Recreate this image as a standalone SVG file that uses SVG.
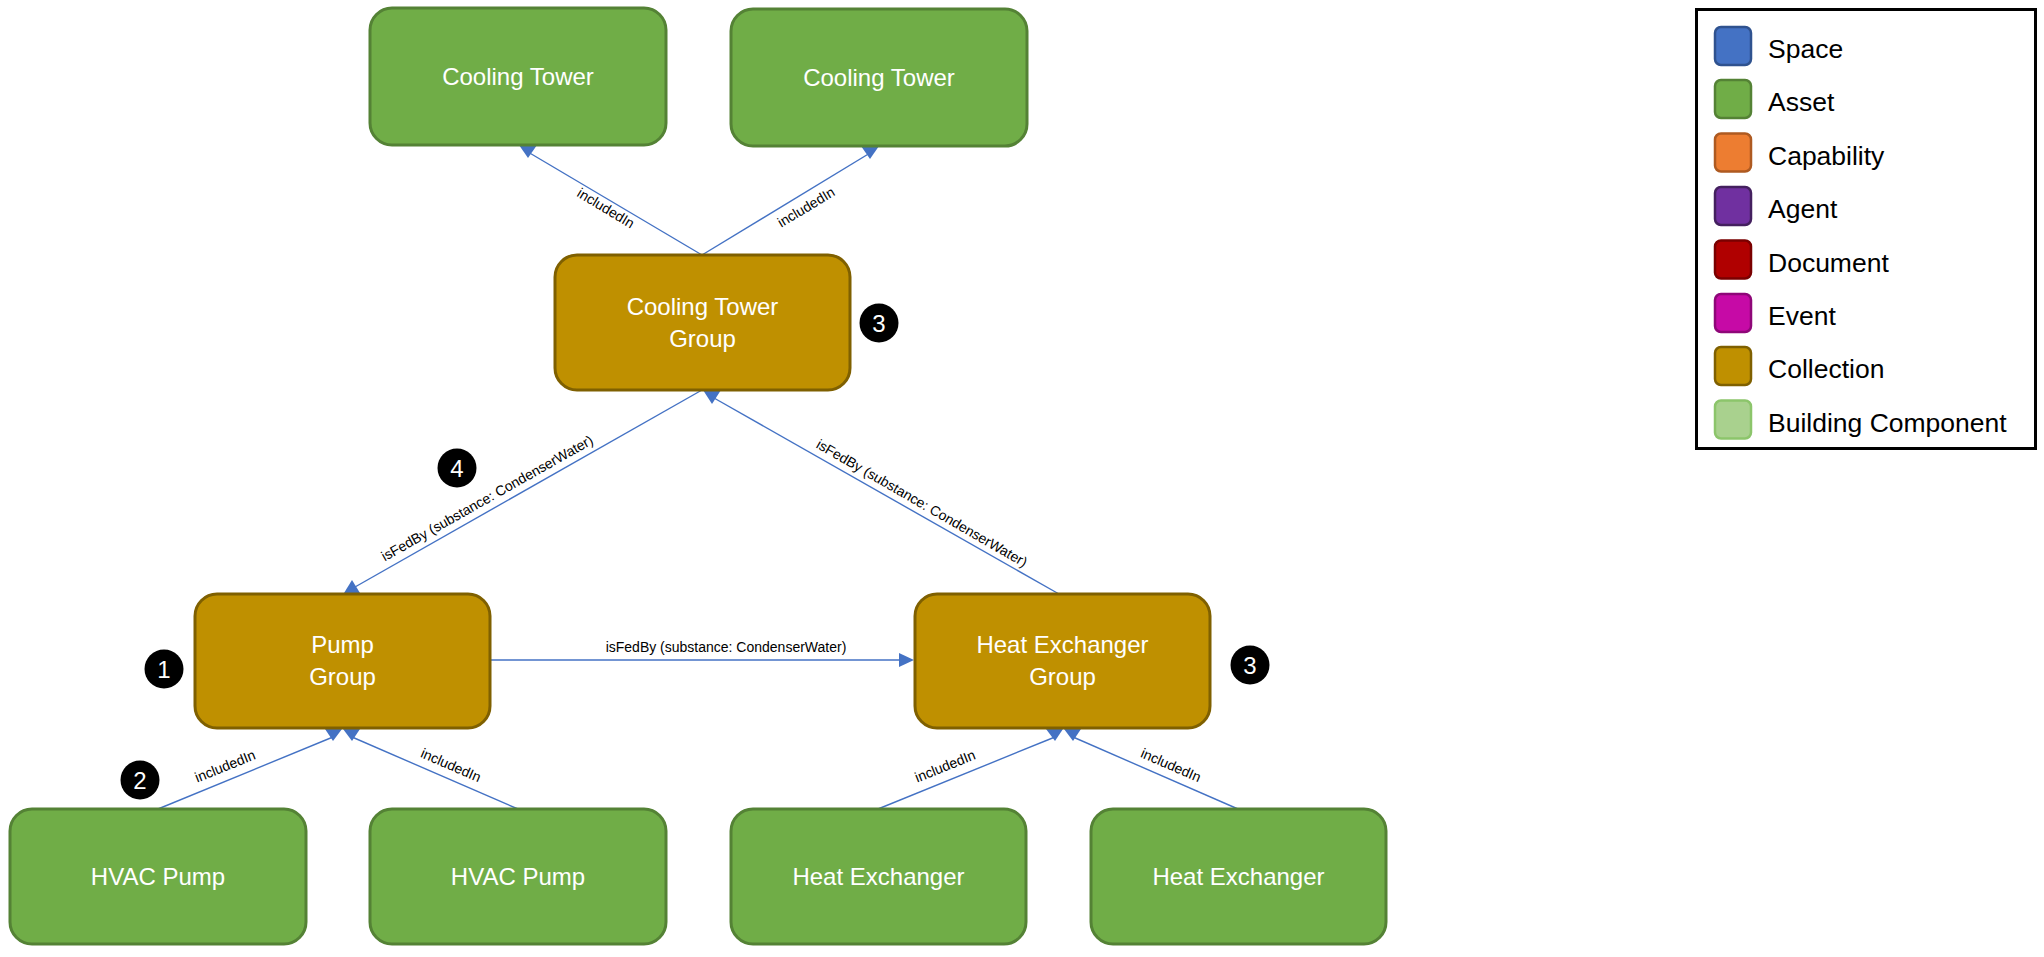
<svg xmlns="http://www.w3.org/2000/svg" width="2044" height="957" viewBox="0 0 2044 957">
<defs>
<style>
.asset{fill:#70AD47;stroke:#548235;stroke-width:3}
.coll{fill:#BF9000;stroke:#7F6000;stroke-width:3}
.nt{font-family:"Liberation Sans",Arial,sans-serif;font-size:24px;fill:#fff;text-anchor:middle}
.edge{stroke:#4472C4;stroke-width:1.4;fill:none}
.ah{fill:#4472C4}
.el{font-family:"Liberation Sans",Arial,sans-serif;font-size:14px;fill:#000;text-anchor:middle}
.badge{fill:#000}
.bt{font-family:"Liberation Sans",Arial,sans-serif;font-size:24px;fill:#fff;text-anchor:middle}
.lg{font-family:"Liberation Sans",Arial,sans-serif;font-size:26.5px;fill:#000}
.sw{stroke-width:2.5}
</style>
</defs>
<rect width="2044" height="957" fill="#fff"/>

<g id="connectors">
  <line class="edge" x1="702" y1="255" x2="528" y2="152"/>
  <polygon class="ah" points="519,145 537,145 528,158"/>
  <text class="el" transform="translate(606,208) rotate(31)" x="0" y="5">includedIn</text>

  <line class="edge" x1="702" y1="255" x2="870" y2="153"/>
  <polygon class="ah" points="861,146 879,146 870,159"/>
  <text class="el" transform="translate(806,207) rotate(-31)" x="0" y="5">includedIn</text>

  <line class="edge" x1="702" y1="390" x2="355" y2="587"/>
  <polygon class="ah" points="344,593 360,593 352,580"/>
  <text class="el" transform="translate(487,498) rotate(-29.5)" x="0" y="5">isFedBy (substance: CondenserWater)</text>

  <line class="edge" x1="1059" y1="594" x2="714" y2="398"/>
  <polygon class="ah" points="703,390 721,390 712,404"/>
  <text class="el" transform="translate(922,503) rotate(30)" x="0" y="5">isFedBy (substance: CondenserWater)</text>

  <line class="edge" x1="490" y1="660" x2="902" y2="660"/>
  <polygon class="ah" points="899,653 899,667 914,660"/>
  <text class="el" x="726" y="652">isFedBy (substance: CondenserWater)</text>

  <line class="edge" x1="158" y1="809" x2="333" y2="737"/>
  <polygon class="ah" points="325,729 342,729 333,741"/>
  <text class="el" transform="translate(225,766) rotate(-22)" x="0" y="5">includedIn</text>

  <line class="edge" x1="518" y1="809" x2="352" y2="737"/>
  <polygon class="ah" points="343,729 360,729 352,741"/>
  <text class="el" transform="translate(451,765) rotate(23.5)" x="0" y="5">includedIn</text>

  <line class="edge" x1="878" y1="809" x2="1055" y2="737"/>
  <polygon class="ah" points="1046,729 1063,729 1055,741"/>
  <text class="el" transform="translate(945,766) rotate(-22)" x="0" y="5">includedIn</text>

  <line class="edge" x1="1238" y1="809" x2="1073" y2="737"/>
  <polygon class="ah" points="1064,729 1081,729 1073,741"/>
  <text class="el" transform="translate(1171,765) rotate(23.5)" x="0" y="5">includedIn</text>
</g>

<g id="ct1">
  <rect class="asset" x="370" y="8" width="296" height="137" rx="22"/>
  <text class="nt" x="518" y="85">Cooling Tower</text>
</g>
<g id="ct2">
  <rect class="asset" x="731" y="9" width="296" height="137" rx="22"/>
  <text class="nt" x="879" y="86">Cooling Tower</text>
</g>
<g id="ctg">
  <rect class="coll" x="555" y="255" width="295" height="135" rx="22"/>
  <text class="nt" x="702.5" y="315">Cooling Tower</text>
  <text class="nt" x="702.5" y="347">Group</text>
</g>
<g id="pg">
  <rect class="coll" x="195" y="594" width="295" height="134" rx="22"/>
  <text class="nt" x="342.5" y="653">Pump</text>
  <text class="nt" x="342.5" y="685">Group</text>
</g>
<g id="hxg">
  <rect class="coll" x="915" y="594" width="295" height="134" rx="22"/>
  <text class="nt" x="1062.5" y="653">Heat Exchanger</text>
  <text class="nt" x="1062.5" y="685">Group</text>
</g>
<g id="hp1">
  <rect class="asset" x="10" y="809" width="296" height="135" rx="22"/>
  <text class="nt" x="158" y="885">HVAC Pump</text>
</g>
<g id="hp2">
  <rect class="asset" x="370" y="809" width="296" height="135" rx="22"/>
  <text class="nt" x="518" y="885">HVAC Pump</text>
</g>
<g id="hx1">
  <rect class="asset" x="731" y="809" width="295" height="135" rx="22"/>
  <text class="nt" x="878.5" y="885">Heat Exchanger</text>
</g>
<g id="hx2">
  <rect class="asset" x="1091" y="809" width="295" height="135" rx="22"/>
  <text class="nt" x="1238.5" y="885">Heat Exchanger</text>
</g>

<g id="badges">
  <g id="b3a"><circle class="badge" cx="879" cy="323" r="19.5"/><text class="bt" x="879" y="331.5">3</text></g>
  <g id="b4"><circle class="badge" cx="457" cy="468" r="19.5"/><text class="bt" x="457" y="476.5">4</text></g>
  <g id="b1"><circle class="badge" cx="164" cy="669" r="19.5"/><text class="bt" x="164" y="677.5">1</text></g>
  <g id="b2"><circle class="badge" cx="140" cy="780" r="19.5"/><text class="bt" x="140" y="788.5">2</text></g>
  <g id="b3b"><circle class="badge" cx="1250" cy="665" r="19.5"/><text class="bt" x="1250" y="673.5">3</text></g>
</g>

<g id="legend">
  <rect x="1696.5" y="9.5" width="339" height="439" fill="#fff" stroke="#000" stroke-width="3"/>
  <rect class="sw" x="1715" y="27" width="36" height="38" rx="6" fill="#4472C4" stroke="#2F528F"/>
  <text class="lg" x="1768" y="58">Space</text>
  <rect class="sw" x="1715" y="80" width="36" height="38" rx="6" fill="#70AD47" stroke="#548235"/>
  <text class="lg" x="1768" y="111">Asset</text>
  <rect class="sw" x="1715" y="133.5" width="36" height="38" rx="6" fill="#ED7D31" stroke="#AE5A21"/>
  <text class="lg" x="1768" y="164.5">Capability</text>
  <rect class="sw" x="1715" y="187" width="36" height="38" rx="6" fill="#7030A0" stroke="#44205F"/>
  <text class="lg" x="1768" y="218">Agent</text>
  <rect class="sw" x="1715" y="240.5" width="36" height="38" rx="6" fill="#B00000" stroke="#7A0000"/>
  <text class="lg" x="1768" y="271.5">Document</text>
  <rect class="sw" x="1715" y="294" width="36" height="38" rx="6" fill="#C60AA6" stroke="#8E0778"/>
  <text class="lg" x="1768" y="325">Event</text>
  <rect class="sw" x="1715" y="347" width="36" height="38" rx="6" fill="#BF9000" stroke="#7F6000"/>
  <text class="lg" x="1768" y="378">Collection</text>
  <rect class="sw" x="1715" y="400.5" width="36" height="38" rx="6" fill="#A9D18E" stroke="#8CC56B"/>
  <text class="lg" x="1768" y="431.5">Building Component</text>
</g>
</svg>
